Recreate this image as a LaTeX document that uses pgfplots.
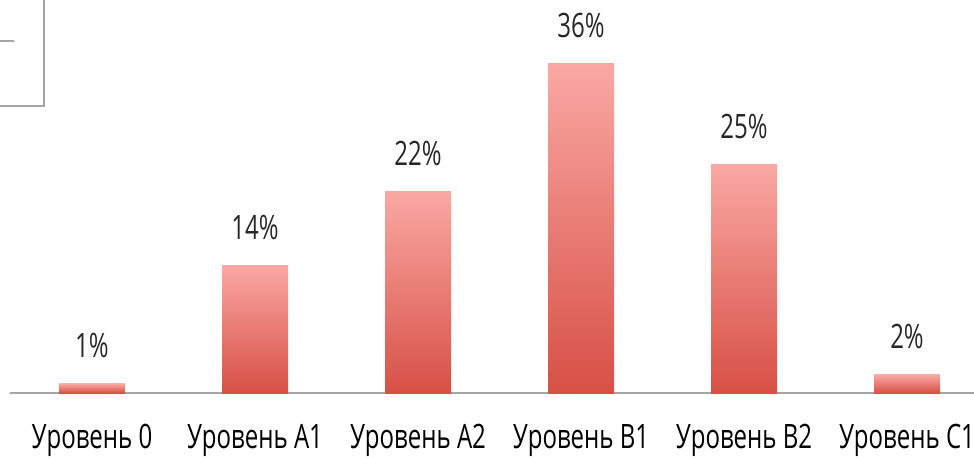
\documentclass[border=0pt]{standalone}
\usepackage{pgfplots}
\pgfplotsset{compat=1.18}
\usepackage{fontspec}
\setmainfont{Open Sans}[FakeStretch=0.715]
\definecolor{barTop}{RGB}{250,168,163}
\definecolor{barBot}{RGB}{215,80,70}
\definecolor{lineGray}{RGB}{165,165,165}
\begin{document}
\begin{tikzpicture}
\path[use as bounding box] (-92bp,-65bp) rectangle (882bp,393bp);
% cropped legend frame in the top-left corner
\draw[lineGray, line width=1.5bp] (-48bp,400bp) -- (-48bp,287bp) -- (-100bp,287bp);
\draw[lineGray, line width=1.5bp] (-100bp,352bp) -- (-78bp,352bp);
\begin{axis}[
  at={(0,0)}, anchor=origin,
  scale only axis,
  x=163bp, y=9.14bp,
  xmin=-0.503, xmax=5.45,
  ymin=0, ymax=40,
  axis x line=bottom,
  axis y line=none,
  axis line style={-, lineGray, line width=1.5bp},
  xtick={0,1,2,3,4,5},
  xticklabels={Уровень 0, Уровень A1, Уровень A2, Уровень B1, Уровень B2, Уровень C1},
  major tick length=0pt,
  xticklabel style={anchor=base, inner sep=0pt, yshift=-55bp, font=\fontsize{33.6bp}{36bp}\selectfont},
  ybar, bar width=66bp, bar shift=0pt,
  /pgf/number format/assume math mode=true,
  nodes near coords={\pgfmathprintnumber{\pgfplotspointmeta}\%},
  nodes near coords style={anchor=base, inner sep=0pt, yshift=26bp, font=\fontsize{33.6bp}{36bp}\selectfont, black!85},
  every axis plot/.append style={draw=none, top color=barTop, bottom color=barBot},
  clip=false,
]
\addplot coordinates {(0,1)};
\addplot coordinates {(1,14)};
\addplot coordinates {(2,22)};
\addplot coordinates {(3,36)};
\addplot coordinates {(4,25)};
\addplot coordinates {(5,2)};
\end{axis}
\end{tikzpicture}
\end{document}
